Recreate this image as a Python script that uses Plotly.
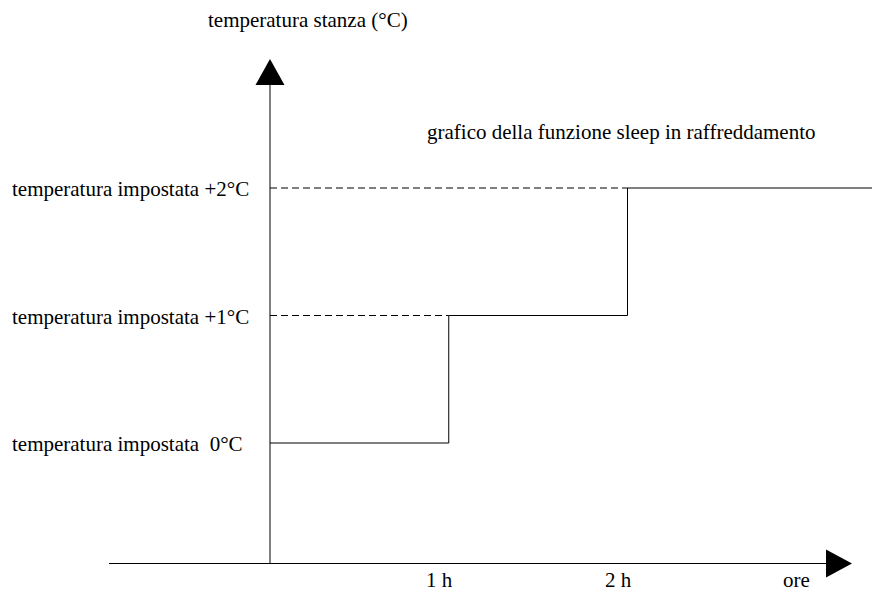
import plotly.graph_objects as go

# ---- data ----
hours = [0, 1, 2]                 # time at which each set-point step begins
levels = [0, 1, 2]                # offset above set temperature (°C)
level_labels = ["temperatura impostata\u00a0 0°C",
                "temperatura impostata +1°C",
                "temperatura impostata +2°C"]
hour_ticks = [1, 2]
hour_labels = ["1 h", "2 h"]
x_title = "ore"
y_title = "temperatura stanza (°C)"
chart_title = "grafico della funzione sleep in raffreddamento"

W, H = 880, 592
OFF = 8            # default page body margin
FONT = "Liberation Serif, Times New Roman, serif"

# pixel <-> data mapping (layout only)
PX0, PXU = 270.0, 178.75   # pixel of x=0, pixels per hour
PY0, PYU = 443.0, 127.5    # pixel of y=0, pixels per °C


def X(px):
    return (px - PX0) / PXU


def Y(py):
    return (PY0 - py) / PYU


x_end = X(W)

fig = go.Figure()

# step curve
fig.add_trace(go.Scatter(
    x=hours + [x_end], y=levels + [levels[-1]],
    mode="lines", line=dict(color="black", width=1, shape="hv"),
    hoverinfo="skip", showlegend=False))

# dashed guides from y axis to each step
for h, lv in zip(hours[1:], levels[1:]):
    fig.add_trace(go.Scatter(
        x=[0, h], y=[lv, lv], mode="lines",
        line=dict(color="black", width=1, dash="7px,4px"),
        hoverinfo="skip", showlegend=False))

shapes = []
# x axis line + arrow
ax_y = Y(563.5)
shapes.append(dict(type="line", xref="x", yref="y", x0=X(109), x1=X(830),
                   y0=ax_y, y1=ax_y, line=dict(color="black", width=1)))
shapes.append(dict(type="path", xref="x", yref="y",
                   path=f"M {X(826)} {Y(549.5)} L {X(852)} {ax_y} L {X(826)} {Y(577.5)} Z",
                   fillcolor="black", line=dict(color="black", width=0)))
# y axis line + arrow
shapes.append(dict(type="line", xref="x", yref="y", x0=0, x1=0,
                   y0=ax_y, y1=Y(82), line=dict(color="black", width=1)))
shapes.append(dict(type="path", xref="x", yref="y",
                   path=f"M {X(255.5)} {Y(85)} L 0 {Y(59)} L {X(284.5)} {Y(85)} Z",
                   fillcolor="black", line=dict(color="black", width=0)))

annotations = []
font = dict(family=FONT, size=21, color="black")
for lv, txt in zip(levels, level_labels):
    annotations.append(dict(x=X(10), y=lv, xref="x", yref="y", text=txt,
                            showarrow=False, xanchor="left", yanchor="middle",
                            font=font, yshift=-1))
for h, txt in zip(hour_ticks, hour_labels):
    annotations.append(dict(x=h, y=Y(579.5), xref="x", yref="y", text=txt,
                            showarrow=False, xanchor="center", yanchor="middle",
                            font=font, xshift=-9))
annotations.append(dict(x=X(796), y=Y(579.5), xref="x", yref="y", text=x_title,
                        showarrow=False, xanchor="center", yanchor="middle", font=font))
annotations.append(dict(x=X(308), y=Y(20), xref="x", yref="y", text=y_title,
                        showarrow=False, xanchor="center", yanchor="middle", font=font))
annotations.append(dict(x=X(621), y=Y(132), xref="x", yref="y", text=chart_title,
                        showarrow=False, xanchor="center", yanchor="middle", font=font))

fig.update_layout(
    width=W - OFF, height=H - OFF,
    margin=dict(l=0, r=0, t=0, b=0),
    paper_bgcolor="white", plot_bgcolor="white",
    xaxis=dict(range=[X(OFF), X(W)], visible=False, fixedrange=True),
    yaxis=dict(range=[Y(H), Y(OFF)], visible=False, fixedrange=True),
    shapes=shapes, annotations=annotations,
    showlegend=False,
)

fig.write_html("out.html", config={"displayModeBar": False})
